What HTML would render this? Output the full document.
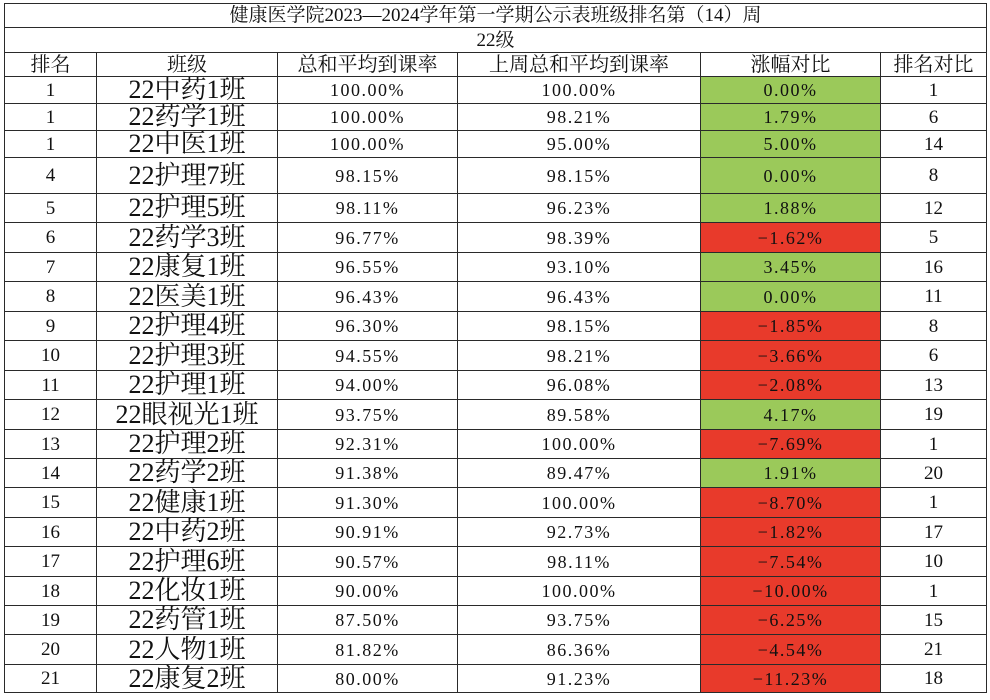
<!DOCTYPE html>
<html><head><meta charset="utf-8"><style>
body{margin:0;background:#fff;width:990px;height:700px;overflow:hidden;}
table{position:absolute;left:4px;top:3px;border-collapse:collapse;table-layout:fixed;width:982px;font-family:"Liberation Serif","Noto Serif CJK SC",serif;color:#111;}
td{border:1.5px solid #2a2a2a;padding:0;text-align:center;vertical-align:middle;font-size:19px;line-height:1;overflow:hidden;white-space:nowrap;}
td.c{font-size:26px;}
td.n{letter-spacing:1.5px;font-size:18px;}
.g{background:#9bc95a;}
.r{background:#e83a2b;}
.h td{font-size:20px;}
</style></head><body>
<table>
<colgroup><col style="width:92px"><col style="width:181px"><col style="width:180px"><col style="width:243px"><col style="width:180px"><col style="width:106px"></colgroup>
<tr style="height:24px"><td colspan="6" style="font-size:19px">健康医学院2023—2024学年第一学期公示表班级排名第（14）周</td></tr>
<tr style="height:25px"><td colspan="6">22级</td></tr>
<tr class="h" style="height:24px"><td>排名</td><td>班级</td><td>总和平均到课率</td><td>上周总和平均到课率</td><td>涨幅对比</td><td>排名对比</td></tr>
<tr style="height:27px"><td>1</td><td class="c">22中药1班</td><td class="n">100.00%</td><td class="n">100.00%</td><td class="n g">0.00%</td><td>1</td></tr>
<tr style="height:27px"><td>1</td><td class="c">22药学1班</td><td class="n">100.00%</td><td class="n">98.21%</td><td class="n g">1.79%</td><td>6</td></tr>
<tr style="height:27px"><td>1</td><td class="c">22中医1班</td><td class="n">100.00%</td><td class="n">95.00%</td><td class="n g">5.00%</td><td>14</td></tr>
<tr style="height:36px"><td>4</td><td class="c">22护理7班</td><td class="n">98.15%</td><td class="n">98.15%</td><td class="n g">0.00%</td><td>8</td></tr>
<tr style="height:29px"><td>5</td><td class="c">22护理5班</td><td class="n">98.11%</td><td class="n">96.23%</td><td class="n g">1.88%</td><td>12</td></tr>
<tr style="height:30px"><td>6</td><td class="c">22药学3班</td><td class="n">96.77%</td><td class="n">98.39%</td><td class="n r">−1.62%</td><td>5</td></tr>
<tr style="height:29px"><td>7</td><td class="c">22康复1班</td><td class="n">96.55%</td><td class="n">93.10%</td><td class="n g">3.45%</td><td>16</td></tr>
<tr style="height:30px"><td>8</td><td class="c">22医美1班</td><td class="n">96.43%</td><td class="n">96.43%</td><td class="n g">0.00%</td><td>11</td></tr>
<tr style="height:29px"><td>9</td><td class="c">22护理4班</td><td class="n">96.30%</td><td class="n">98.15%</td><td class="n r">−1.85%</td><td>8</td></tr>
<tr style="height:30px"><td>10</td><td class="c">22护理3班</td><td class="n">94.55%</td><td class="n">98.21%</td><td class="n r">−3.66%</td><td>6</td></tr>
<tr style="height:29px"><td>11</td><td class="c">22护理1班</td><td class="n">94.00%</td><td class="n">96.08%</td><td class="n r">−2.08%</td><td>13</td></tr>
<tr style="height:30px"><td>12</td><td class="c">22眼视光1班</td><td class="n">93.75%</td><td class="n">89.58%</td><td class="n g">4.17%</td><td>19</td></tr>
<tr style="height:29px"><td>13</td><td class="c">22护理2班</td><td class="n">92.31%</td><td class="n">100.00%</td><td class="n r">−7.69%</td><td>1</td></tr>
<tr style="height:29px"><td>14</td><td class="c">22药学2班</td><td class="n">91.38%</td><td class="n">89.47%</td><td class="n g">1.91%</td><td>20</td></tr>
<tr style="height:30px"><td>15</td><td class="c">22健康1班</td><td class="n">91.30%</td><td class="n">100.00%</td><td class="n r">−8.70%</td><td>1</td></tr>
<tr style="height:29px"><td>16</td><td class="c">22中药2班</td><td class="n">90.91%</td><td class="n">92.73%</td><td class="n r">−1.82%</td><td>17</td></tr>
<tr style="height:30px"><td>17</td><td class="c">22护理6班</td><td class="n">90.57%</td><td class="n">98.11%</td><td class="n r">−7.54%</td><td>10</td></tr>
<tr style="height:29px"><td>18</td><td class="c">22化妆1班</td><td class="n">90.00%</td><td class="n">100.00%</td><td class="n r">−10.00%</td><td>1</td></tr>
<tr style="height:29px"><td>19</td><td class="c">22药管1班</td><td class="n">87.50%</td><td class="n">93.75%</td><td class="n r">−6.25%</td><td>15</td></tr>
<tr style="height:30px"><td>20</td><td class="c">22人物1班</td><td class="n">81.82%</td><td class="n">86.36%</td><td class="n r">−4.54%</td><td>21</td></tr>
<tr style="height:28px"><td>21</td><td class="c">22康复2班</td><td class="n">80.00%</td><td class="n">91.23%</td><td class="n r">−11.23%</td><td>18</td></tr>
</table>
</body></html>
